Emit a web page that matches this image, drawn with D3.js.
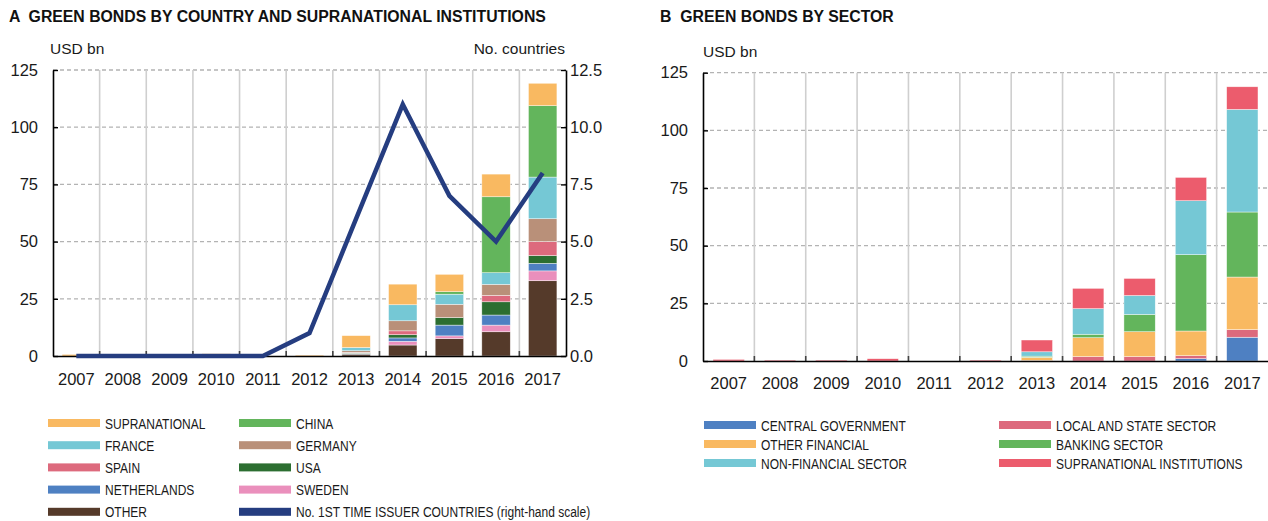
<!DOCTYPE html>
<html>
<head>
<meta charset="utf-8">
<script src="https://cdn.jsdelivr.net/npm/d3@7"></script>
<style>
	body { margin: 0; background: #fff; }
	svg { display: block; font-family: "Liberation Sans", Arial, Helvetica, sans-serif; }
	.tick text { fill: #1a1a1a; }
	.legend text { font-size: 15px; fill: #1a1a1a; }
</style>
</head>
<body>
<div id="chart"></div>
<script>
var years = ['2007', '2008', '2009', '2010', '2011', '2012', '2013', '2014', '2015', '2016', '2017'];

// panel A, USD bn, stacked bottom to top
var countryKeys = ['other', 'sweden', 'netherlands', 'usa', 'spain', 'germany', 'france', 'china', 'supranational'];
var other         = [0, 0, 0, 0, 0, 0, 0.8, 4.8, 7.6, 10.6, 32.9];
var sweden        = [0, 0, 0, 0, 0, 0, 0.0, 1.6, 1.2, 2.9, 4.3];
var netherlands   = [0, 0, 0, 0, 0, 0, 0.2, 1.5, 4.7, 4.4, 3.3];
var usa           = [0, 0, 0, 0, 0, 0, 0.3, 1.4, 3.3, 5.8, 3.4];
var spain         = [0, 0, 0, 0, 0, 0, 0.3, 1.7, 0.0, 2.8, 6.1];
var germany       = [0, 0, 0, 0, 0, 0, 0.7, 4.4, 5.8, 4.8, 10.0];
var france        = [0, 0, 0, 0, 0, 0, 1.4, 7.0, 4.4, 5.1, 18.2];
var china         = [0, 0, 0, 0, 0, 0, 0.0, 0.0, 1.1, 33.2, 31.2];
var supranational = [0.7, 0.4, 0.4, 1.0, 0, 0.4, 5.2, 9.0, 7.6, 9.9, 9.8];
// right-hand scale
var firstTimeIssuers = [0, 0, 0, 0, 0, 1, 6, 11, 7, 5, 8];

// panel B, USD bn, stacked bottom to top
var sectorKeys = ['centralGov', 'localState', 'otherFinancial', 'banking', 'nonFinancial', 'supraInst'];
var centralGov     = [0, 0, 0, 0, 0, 0, 0.0, 0.0, 0.0, 1.0, 10.3];
var localState     = [0, 0, 0, 0, 0, 0, 0.2, 1.9, 1.9, 1.3, 3.3];
var otherFinancial = [0, 0, 0, 0, 0, 0, 1.4, 8.2, 10.8, 10.7, 22.8];
var banking        = [0, 0, 0, 0, 0, 0, 0.5, 1.5, 7.5, 33.1, 28.2];
var nonFinancial   = [0, 0, 0, 0, 0, 0, 1.9, 11.1, 8.2, 23.4, 44.5];
var supraInst      = [0.7, 0.4, 0.4, 1.0, 0, 0.4, 5.1, 8.8, 7.4, 10.1, 9.8];

var usdTicks = [0, 25, 50, 75, 100, 125];
var countryTicks = [0, 2.5, 5, 7.5, 10, 12.5];

var colors = {
	supranational: '#f9b961', china: '#63b55c', france: '#75c8d5', germany: '#b99079',
	spain: '#dd6a7d', usa: '#2c6e31', netherlands: '#4e80c2', sweden: '#ea8fbc', other: '#553a2a',
	centralGov: '#4e80c2', localState: '#dd6a7d', otherFinancial: '#f9b961', banking: '#63b55c',
	nonFinancial: '#75c8d5', supraInst: '#ec5c6d', line: '#253d80'
};

var countryData = years.map(function(y, i) {
	return {year: y, other: other[i], sweden: sweden[i], netherlands: netherlands[i], usa: usa[i], spain: spain[i],
		germany: germany[i], france: france[i], china: china[i], supranational: supranational[i], issuers: firstTimeIssuers[i]};
});
var sectorData = years.map(function(y, i) {
	return {year: y, centralGov: centralGov[i], localState: localState[i], otherFinancial: otherFinancial[i],
		banking: banking[i], nonFinancial: nonFinancial[i], supraInst: supraInst[i]};
});

var svg = d3.select('#chart').append('svg').attr('width', 1268).attr('height', 521);

function drawPanel(opts) {
	var g = svg.append('g');
	var x = d3.scaleBand().domain(years).range([opts.left, opts.right]).padding(0);
	var y = d3.scaleLinear().domain([0, 125]).range([opts.bottom, opts.top]);
	var barW = x.bandwidth() * 0.61;

	// title + unit
	g.append('text').attr('x', opts.titleX).attr('y', 22)
		.style('font-size', '15.8px').style('font-weight', 'bold').style('white-space', 'pre').attr('fill', '#111')
		.text(opts.title);
	g.append('text').attr('x', opts.unitX).attr('y', opts.top - 16)
		.style('font-size', '15.5px').attr('fill', '#1a1a1a').text('USD bn');

	// horizontal dashed grid
	g.append('g').selectAll('line').data(usdTicks.slice(1)).enter().append('line')
		.attr('x1', opts.left).attr('x2', opts.right)
		.attr('y1', d => y(d)).attr('y2', d => y(d))
		.attr('stroke', '#b3b3b3').attr('stroke-width', 1.3).attr('stroke-dasharray', '4,3');

	// vertical separators between years
	g.append('g').selectAll('line').data(years.slice(1)).enter().append('line')
		.attr('x1', d => x(d)).attr('x2', d => x(d))
		.attr('y1', opts.top).attr('y2', opts.bottom)
		.attr('stroke', '#cfcfcf').attr('stroke-width', 1.6);
	g.append('g').selectAll('line').data(years.slice(1)).enter().append('line')
		.attr('x1', d => x(d)).attr('x2', d => x(d))
		.attr('y1', opts.bottom - 5).attr('y2', opts.bottom)
		.attr('stroke', '#444').attr('stroke-width', 1.6);

	// stacked bars
	var series = d3.stack().keys(opts.keys)(opts.data);
	g.append('g').selectAll('g').data(series).enter().append('g')
		.attr('fill', d => colors[d.key])
		.selectAll('rect').data(d => d).enter().append('rect')
		.attr('x', d => x(d.data.year) + (x.bandwidth() - barW) / 2)
		.attr('width', barW)
		.attr('y', d => y(d[1]))
		.attr('height', d => y(d[0]) - y(d[1]))
		.attr('stroke', '#fff').attr('stroke-width', 0.6).attr('stroke-opacity', 0.7);

	// axes
	var yAxis = g.append('g').attr('transform', 'translate(' + opts.left + ',0)')
		.call(d3.axisLeft(y).tickValues(usdTicks).tickFormat(d3.format('d')).tickSize(-5).tickSizeOuter(0).tickPadding(15));
	yAxis.selectAll('text').style('font-size', '16.5px');
	yAxis.select('.domain').attr('stroke', '#000').attr('stroke-width', 1.6);
	yAxis.selectAll('.tick line').attr('stroke', '#000').attr('stroke-width', 1.4);

	var xAxis = g.append('g').attr('transform', 'translate(0,' + opts.bottom + ')')
		.call(d3.axisBottom(x).tickSize(0).tickSizeOuter(0).tickPadding(opts.yearPad));
	xAxis.selectAll('text').style('font-size', '16.5px');
	xAxis.select('.domain').attr('stroke', '#000').attr('stroke-width', 1.6);

	return {g: g, x: x, y: y};
}

// ---- panel A
var A = drawPanel({
	left: 53, right: 566, top: 70, bottom: 356, titleX: 9, unitX: 50, yearPad: 17,
	title: 'A  GREEN BONDS BY COUNTRY AND SUPRANATIONAL INSTITUTIONS',
	keys: countryKeys, data: countryData
});

var yRight = d3.scaleLinear().domain([0, 12.5]).range([356, 70]);
var rAxis = A.g.append('g').attr('transform', 'translate(566,0)')
	.call(d3.axisRight(yRight).tickValues(countryTicks).tickFormat(d3.format('.1f')).tickSize(-5).tickSizeOuter(0).tickPadding(4));
rAxis.selectAll('text').style('font-size', '16.5px');
rAxis.select('.domain').attr('stroke', '#000').attr('stroke-width', 1.6);
rAxis.selectAll('.tick line').attr('stroke', '#000').attr('stroke-width', 1.4);

A.g.append('text').attr('x', 565).attr('y', 54).attr('text-anchor', 'end')
	.style('font-size', '15.5px').attr('fill', '#1a1a1a').text('No. countries');

var line = d3.line()
	.x(d => A.x(d.year) + A.x.bandwidth() / 2)
	.y(d => yRight(d.issuers));
A.g.append('path').datum(countryData)
	.attr('d', line)
	.attr('fill', 'none')
	.attr('stroke', colors.line)
	.attr('stroke-width', 4.5)
	.attr('stroke-linejoin', 'miter');

// ---- panel B
var B = drawPanel({
	left: 703, right: 1268, top: 72.7, bottom: 361, titleX: 660, unitX: 703, yearPad: 16,
	title: 'B  GREEN BONDS BY SECTOR',
	keys: sectorKeys, data: sectorData
});

// ---- legends
var legendA = [
	['supranational', 'SUPRANATIONAL'], ['france', 'FRANCE'], ['spain', 'SPAIN'], ['netherlands', 'NETHERLANDS'], ['other', 'OTHER'],
	['china', 'CHINA'], ['germany', 'GERMANY'], ['usa', 'USA'], ['sweden', 'SWEDEN'], ['line', 'No. 1ST TIME ISSUER COUNTRIES (right-hand scale)']
];
var legendB = [
	['centralGov', 'CENTRAL GOVERNMENT'], ['otherFinancial', 'OTHER FINANCIAL'], ['nonFinancial', 'NON-FINANCIAL SECTOR'],
	['localState', 'LOCAL AND STATE SECTOR'], ['banking', 'BANKING SECTOR'], ['supraInst', 'SUPRANATIONAL INSTITUTIONS']
];

function drawLegend(items, perCol, colX, y0, rowH, swW) {
	var lg = svg.append('g').attr('class', 'legend');
	var it = lg.selectAll('g').data(items).enter().append('g')
		.attr('transform', (d, i) => 'translate(' + colX[Math.floor(i / perCol)] + ',' + (y0 + (i % perCol) * rowH) + ')');
	it.append('rect').attr('x', 0).attr('y', -4).attr('width', swW).attr('height', 8)
		.attr('fill', d => colors[d[0]]);
	// condensed look: squeeze the regular face horizontally
	it.append('text').attr('transform', 'translate(' + (swW + 5) + ',5.5) scale(0.8,1)').text(d => d[1]);
}

drawLegend(legendA, 5, [48, 239], 423, 22.2, 52);
drawLegend(legendB, 3, [704, 999], 425, 19, 52);
</script>
</body>
</html>
